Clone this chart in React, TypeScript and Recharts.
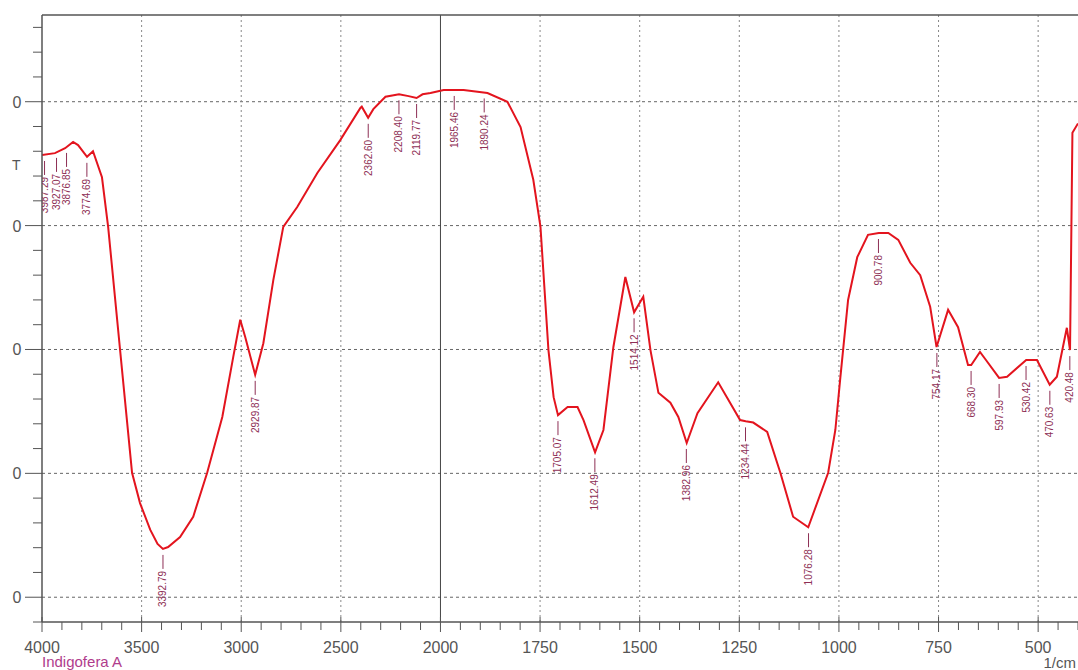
import { ComposedChart, Line, Scatter, XAxis, YAxis, ReferenceLine } from "recharts";

// spectrum (wavenumber 1/cm, %T-ish units)
const wavenumbers = [
  4000, 3935, 3884, 3844, 3819, 3774, 3744, 3699, 3668, 3608, 3548, 3508, 3457, 3420, 3393, 3367,
  3307, 3241, 3171, 3095, 3040, 3005, 2980, 2930, 2889, 2839, 2789, 2719, 2618, 2503, 2402, 2395,
  2363, 2337, 2276, 2208, 2160, 2120, 2090, 2050, 1992, 1942, 1882, 1832, 1799, 1767, 1749, 1729,
  1716, 1705, 1681, 1656, 1641, 1612, 1591, 1566, 1536, 1514, 1491, 1473, 1453, 1423, 1403, 1382,
  1355, 1303, 1248, 1234, 1215, 1180, 1147, 1115, 1077, 1027, 1009, 997, 977, 954, 927, 900,
  876, 851, 821, 796, 771, 755, 726, 701, 676, 668, 646, 631, 598, 578, 530, 503,
  471, 453, 428, 420, 414, 400,
];
const transmittance = [
  91.4, 91.7, 92.5, 93.5, 93.0, 91.1, 92.0, 87.8, 79.8, 59.9, 40.1, 35.2, 30.9, 28.6, 27.8, 28.1,
  29.7, 33.0, 40.1, 49.1, 58.8, 64.8, 62.0, 55.9, 61.0, 71.2, 79.8, 83.0, 88.5, 93.8, 99.0, 99.2,
  97.4, 98.8, 100.8, 101.2, 100.9, 100.6, 101.2, 101.4, 101.9, 101.9, 101.4, 100.0, 95.9, 87.4, 79.8, 59.9,
  52.3, 49.4, 50.7, 50.7, 48.6, 43.4, 47.0, 60.4, 71.7, 66.0, 68.5, 59.9, 53.0, 51.4, 49.1, 44.9,
  49.7, 54.7, 48.6, 48.4, 48.2, 46.7, 40.1, 33.0, 31.3, 40.1, 47.0, 55.1, 68.0, 74.9, 78.5, 78.8,
  78.8, 77.7, 74.0, 72.0, 66.9, 60.4, 66.4, 63.6, 57.5, 57.5, 59.6, 58.3, 55.4, 55.6, 58.3, 58.3,
  54.3, 55.6, 63.5, 59.9, 95.0, 96.5,
];

// peak picks
const peakLabels = [
  "3987.29", "3927.07", "3876.85", "3774.69", "3392.79", "2929.87", "2362.60", "2208.40",
  "2119.77", "1965.46", "1890.24", "1705.07", "1612.49", "1514.12", "1382.96", "1234.44",
  "1076.28", "900.78", "754.17", "668.30", "597.93", "530.42", "470.63", "420.48",
];
const peakTransmittance = [
  91.4, 91.9, 92.7, 91.1, 27.8, 55.9, 97.4, 101.2,
  100.6, 101.9, 101.5, 49.4, 43.4, 66.0, 44.9, 48.4,
  31.3, 78.8, 60.4, 57.5, 55.4, 58.3, 54.3, 59.9,
];

const xTickLabels = [4000, 3500, 3000, 2500, 2000, 1750, 1500, 1250, 1000, 750, 500];
const yGridValues = [20, 40, 60, 80, 100];
const yDomain = [16, 114];

// Shimadzu-style x scale: 4000-2000 at half scale, 2000-400 at full scale
const BREAK = 2000;
const toU = (wn: number) => (wn >= BREAK ? (4000 - wn) / 2 : 1000 + (BREAK - wn));
const fromU = (u: number) => (u <= 1000 ? 4000 - 2 * u : BREAK - (u - 1000));

const spectrum = wavenumbers.map((wn, i) => ({ u: toU(wn), v: transmittance[i] }));
const peaks = peakLabels.map((label, i) => ({ u: toU(parseFloat(label)), v: peakTransmittance[i], label }));

const xTicks: number[] = [];
for (let wn = 4000; wn > BREAK; wn -= 100) xTicks.push(toU(wn));
for (let wn = BREAK; wn >= 400; wn -= 50) xTicks.push(toU(wn));

const yTicks: number[] = [];
for (let v = yDomain[0]; v <= yDomain[1] - 2; v += 4) yTicks.push(v);

const axisColor = "#555";
const labelColor = "#8e2f55";
const font = '"Liberation Sans", Arial, sans-serif';

const XTick = (props: any) => {
  const { x, y, payload } = props;
  const wn = Math.round(fromU(payload.value));
  const major = xTickLabels.includes(wn);
  return (
    <g>
      <line x1={x} x2={x} y1={major ? y - 5 : y} y2={y + (major ? 10 : 8)} stroke={axisColor} />
      {major && (
        <text x={x} y={y + 31} textAnchor="middle" fontSize={16} fill={axisColor} fontFamily={font}>
          {wn}
        </text>
      )}
    </g>
  );
};

const YTick = (props: any) => {
  const { x, y, payload } = props;
  const major = yGridValues.includes(payload.value);
  return (
    <g>
      <line x1={x - (major ? 17 : 9)} x2={x} y1={y} y2={y} stroke={axisColor} />
      {major && (
        <text x={17} y={y + 6} textAnchor="middle" fontSize={16} fill={axisColor} fontFamily={font}>
          0
        </text>
      )}
    </g>
  );
};

const PeakMark = (props: any) => {
  const { cx, cy, payload } = props;
  const top = cy + 6;
  return (
    <g>
      <line x1={cx} x2={cx} y1={top} y2={top + 14} stroke={labelColor} strokeWidth={1} />
      <text
        transform={`translate(${cx + 3.5},${top + 16}) rotate(-90)`}
        textAnchor="end"
        fontSize={10}
        fill={labelColor}
        fontFamily={font}
      >
        {payload.label}
      </text>
    </g>
  );
};

export default function App() {
  return (
    <div style={{ position: "absolute", left: 0, top: 0, width: 1078, height: 670, background: "#fff" }}>
      <ComposedChart width={1078} height={670} data={spectrum} margin={{ top: 15, right: 0, left: 0, bottom: 0 }}>
        <XAxis
          dataKey="u"
          type="number"
          domain={[0, 2600]}
          ticks={xTicks}
          interval={0}
          tick={<XTick />}
          tickSize={0}
          tickMargin={0}
          tickLine={false}
          height={48}
          axisLine={{ stroke: axisColor, strokeWidth: 1.5 }}
          allowDataOverflow
        />
        <YAxis
          dataKey="v"
          type="number"
          domain={yDomain}
          ticks={yTicks}
          interval={0}
          tick={<YTick />}
          tickSize={0}
          tickMargin={0}
          tickLine={false}
          width={42}
          axisLine={{ stroke: axisColor, strokeWidth: 1.5 }}
          allowDataOverflow
        />
        {yGridValues.map((v) => (
          <ReferenceLine key={"h" + v} y={v} stroke="#666" strokeDasharray="3 3" />
        ))}
        {xTickLabels
          .filter((wn) => wn !== 4000 && wn !== BREAK)
          .map((wn) => (
            <ReferenceLine key={"v" + wn} x={toU(wn)} stroke="#888" strokeDasharray="2 3" />
          ))}
        <ReferenceLine x={toU(BREAK)} stroke="#444" />
        <ReferenceLine y={yDomain[1]} stroke={axisColor} strokeWidth={1.5} />
        <Line
          type="linear"
          dataKey="v"
          stroke="#e3141e"
          strokeWidth={2}
          dot={false}
          isAnimationActive={false}
        />
        <Scatter data={peaks} dataKey="v" shape={<PeakMark />} isAnimationActive={false} />
      </ComposedChart>
      <svg width={1078} height={670} style={{ position: "absolute", left: 0, top: 0, pointerEvents: "none" }}>
        <text x={12} y={170} fontSize={14} fill={axisColor} fontFamily={font}>T</text>
        <text x={42} y={667} fontSize={15} fill="#b03c8c" fontFamily={font}>Indigofera A</text>
        <text x={1076} y={668} fontSize={15} fill={axisColor} fontFamily={font} textAnchor="end">1/cm</text>
      </svg>
    </div>
  );
}
